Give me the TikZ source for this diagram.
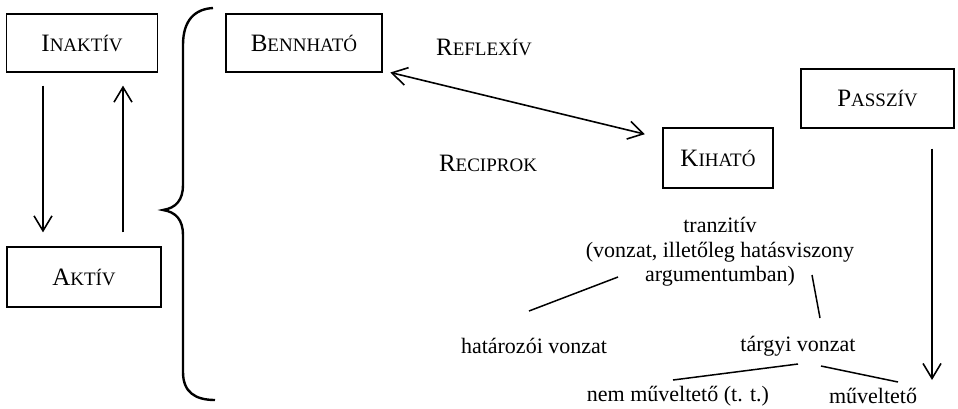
\documentclass[tikz,border=0pt]{standalone}
\usepackage{fontspec}
\setmainfont{Liberation Serif}
\usetikzlibrary{positioning,calc,arrows.meta}
\newcommand{\kiskap}[2]{{\fontsize{25}{25}\selectfont #1}{\fontsize{19}{19}\selectfont #2}}

\begin{document}
\begin{tikzpicture}[x=1pt,y=-1pt,>={Straight Barb[length=15pt,width=18pt]},
    font=\fontsize{22}{24.5}\selectfont,
    doboz/.style={draw,line width=1.2pt,inner sep=0pt},
    felirat/.style={inner sep=0pt,align=center},
    nyil/.style={line width=1.6pt},
    vonal/.style={line width=1.5pt}]
\useasboundingbox (0,0) rectangle (958,408);
% dobozok
\node[doboz,minimum width=151pt,minimum height=58pt] (inaktiv) at (82,43) {\kiskap{I}{NAKTÍV}};
\node[doboz,minimum width=154pt,minimum height=60pt] (aktiv) at (84,277) {\kiskap{A}{KTÍV}};
\node[doboz,minimum width=156pt,minimum height=58pt] (bennhato) at (304,43) {\kiskap{B}{ENNHATÓ}};
\node[doboz,minimum width=110pt,minimum height=60pt] (kihato) at (718,158) {\kiskap{K}{IHATÓ}};
\node[doboz,minimum width=153pt,minimum height=59pt] (passziv) at (877.5,98.5) {\kiskap{P}{ASSZÍV}};
% feliratok
\node[felirat] (reflexiv) at (484,47) {\kiskap{R}{EFLEXÍV}};
\node[felirat] (reciprok) at (488,163) {\kiskap{R}{ECIPROK}};
\node[felirat] (tranzitiv) at (720,252) {tranzitív\\(vonzat, illetőleg hatásviszony\\argumentumban)};
\node[felirat] (hatarozoi) at (534,346) {határozói vonzat};
\node[felirat] (targyi) at (798,346) {tárgyi vonzat};
\node[felirat] (nemmuv) at (678,396) {nem műveltető (t. t.)};
\node[felirat] (muv) at (873,396) {műveltető};
% nyilak
\coordinate (le) at (43,0);
\coordinate (fel) at (123,0);
\coordinate (pveg) at (932,380);
\draw[nyil,->,shorten <=13pt,shorten >=14pt] (inaktiv.south -| le) -- (aktiv.north -| le);
\draw[nyil,->,shorten <=14pt,shorten >=13pt] (aktiv.north -| fel) -- (inaktiv.south -| fel);
\draw[nyil,<->,shorten <=8pt,shorten >=18pt] ([yshift=2pt]bennhato.south east) -- ([yshift=-11pt]kihato.north west);
\draw[nyil,->,shorten <=20pt] (passziv.south -| pveg) -- (pveg);
% kapcsos zarojel
\draw[line width=2.4pt] (213,8) .. controls (195,9) and (183,20) .. (183,45) -- (183,185)
    .. controls (183,200) and (176,208) .. (163,210) .. controls (176,212) and (183,220) .. (183,235)
    -- (183,372) .. controls (183,392) and (195,400) .. (215,400);
% agak
\draw[vonal] ($(tranzitiv.center)+(-102,25)$) -- ($(hatarozoi.center)+(-5,-35)$);
\draw[vonal] ($(tranzitiv.center)+(92,23)$) -- ($(targyi.center)+(22,-28)$);
\draw[vonal] ($(targyi.center)+(0,18)$) -- ($(nemmuv.center)+(-5,-16)$);
\draw[vonal] ($(targyi.center)+(23,20)$) -- ($(muv.center)+(25,-14)$);
\end{tikzpicture}
\end{document}
